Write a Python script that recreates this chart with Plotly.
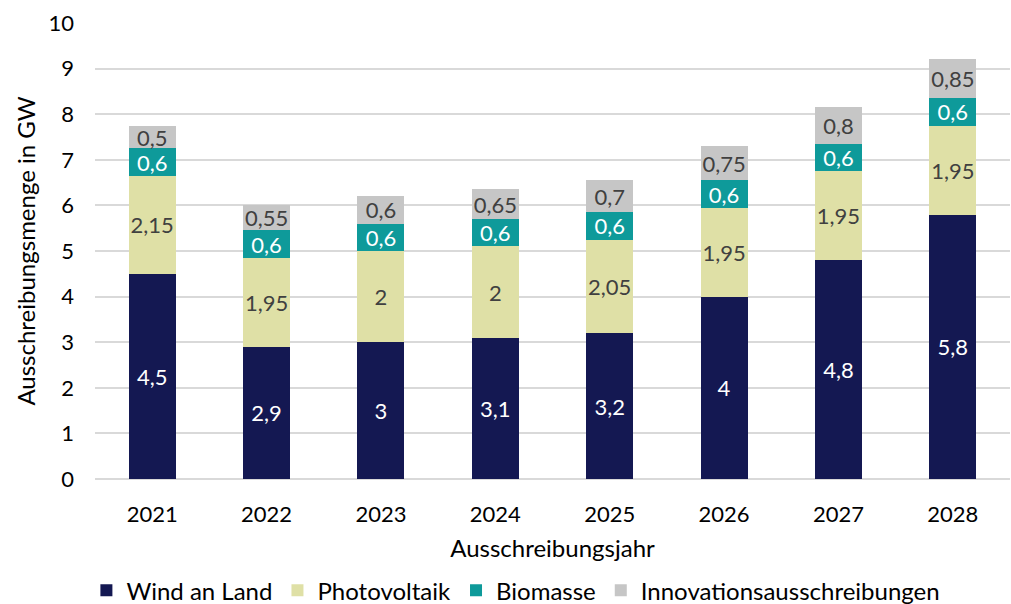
import plotly.graph_objects as go

years = ["2021", "2022", "2023", "2024", "2025", "2026", "2027", "2028"]
wind = [4.5, 2.9, 3, 3.1, 3.2, 4, 4.8, 5.8]
pv = [2.15, 1.95, 2, 2, 2.05, 1.95, 1.95, 1.95]
bio = [0.6, 0.6, 0.6, 0.6, 0.6, 0.6, 0.6, 0.6]
inno = [0.5, 0.55, 0.6, 0.65, 0.7, 0.75, 0.8, 0.85]

series = [
    ("Wind an Land", wind, "#141852", "white"),
    ("Photovoltaik", pv, "#dfe0a6", "#404040"),
    ("Biomasse", bio, "#0e9a9a", "white"),
    ("Innovationsausschreibungen", inno, "#c6c6c6", "#404040"),
]

FONT = "Lato"

fig = go.Figure()
for name, vals, color, tcolor in series:
    fig.add_trace(go.Bar(
        x=years, y=vals, name=name,
        marker=dict(color=color, line=dict(width=0)),
        text=[str(v).replace(".", ",") for v in vals],
        textposition="inside", insidetextanchor="middle",
        textfont=dict(family=FONT, size=22, color=tcolor),
        textangle=0, constraintext="none",
    ))

fig.update_layout(
    barmode="stack",
    bargap=0.59,
    width=1011, height=604,
    margin=dict(l=95, r=1, t=23, b=125),
    paper_bgcolor="white", plot_bgcolor="white",
    font=dict(family=FONT, size=22, color="#000000"),
    uniformtext=dict(mode=False),
    xaxis=dict(
        title=dict(text="Ausschreibungsjahr", standoff=14, font=dict(size=24)),
        tickfont=dict(size=22), showgrid=False, showline=False, ticks="",
        ticklabelstandoff=20, automargin=False,
    ),
    yaxis=dict(
        title=dict(text="Ausschreibungsmenge in GW", standoff=6, font=dict(size=24)),
        range=[0, 10], dtick=1, tickfont=dict(size=22),
        showgrid=True, gridcolor="#d9d9d9", gridwidth=2,
        zeroline=True, zerolinecolor="#d9d9d9", zerolinewidth=2,
        ticks="", ticklabelstandoff=20, automargin=False,
    ),
    legend=dict(
        orientation="h", x=0.46, xanchor="center",
        yref="container", y=0.022, yanchor="middle",
        font=dict(size=24), itemwidth=30, traceorder="normal",
    ),
)

fig.write_html("out.html")
